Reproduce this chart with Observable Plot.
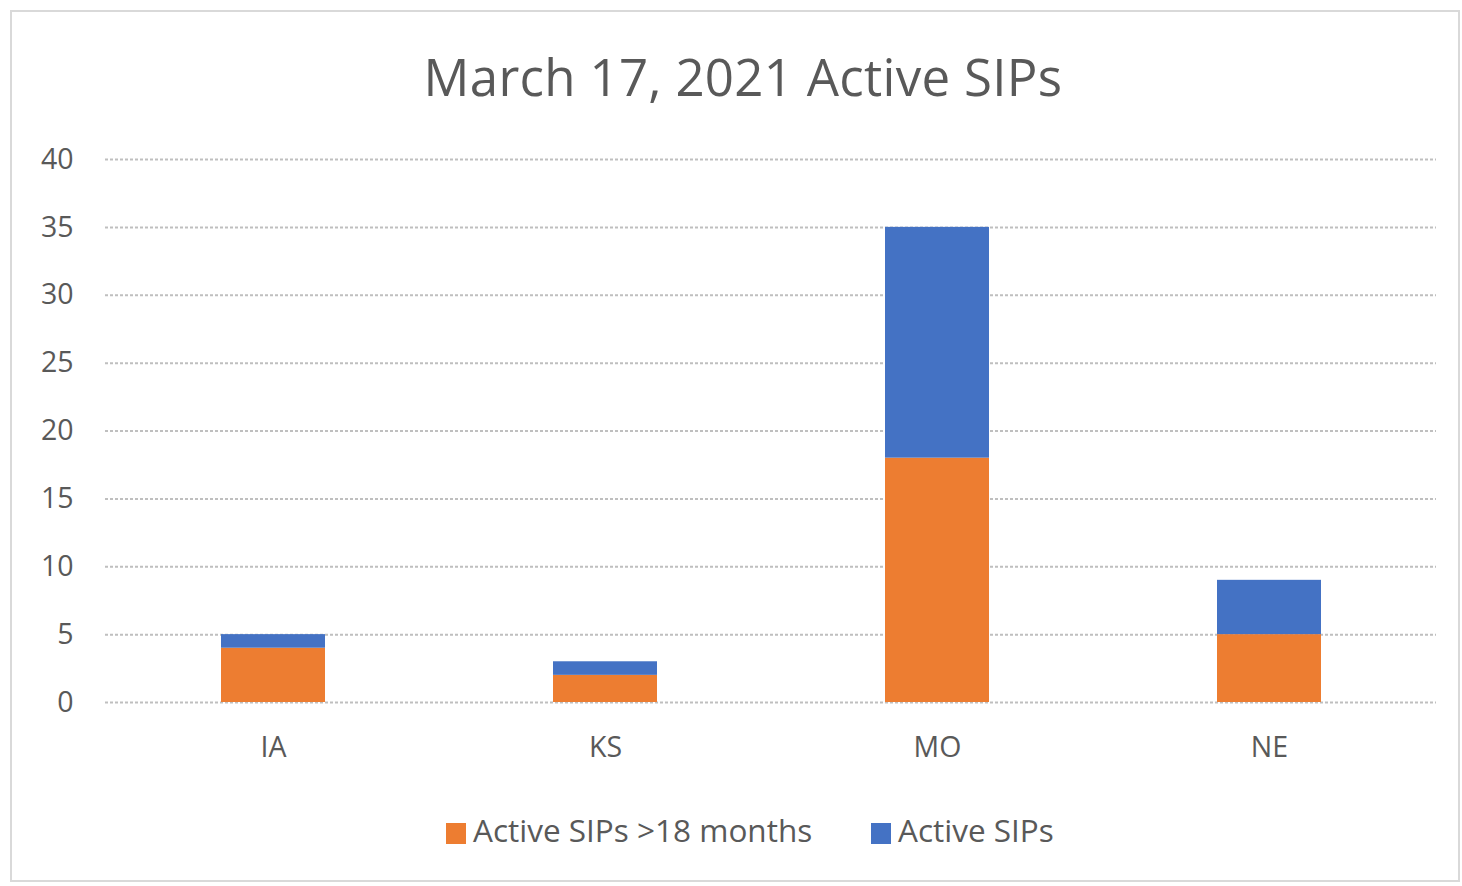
<!DOCTYPE html>
<html><head><meta charset="utf-8">
<script src="https://cdn.jsdelivr.net/npm/d3@7"></script>
<script src="https://cdn.jsdelivr.net/npm/@observablehq/plot@0.6"></script>
<style>
html,body{margin:0;padding:0;background:#fff;}
body{width:1462px;height:886px;position:relative;overflow:hidden;font-family:"Open Sans",sans-serif;}
#frame{position:absolute;left:10px;top:10px;width:1450px;height:872px;border:2px solid #d9d9d9;box-sizing:border-box;}
#title{position:absolute;left:0;width:1486px;top:45px;text-align:center;font-size:51px;color:#595959;line-height:62px;letter-spacing:0.3px;}
#chart{position:absolute;left:0;top:130px;}
#legend{position:absolute;top:812px;left:0;width:1462px;font-size:31.5px;color:#595959;line-height:36px;}
.li{position:absolute;top:0;white-space:nowrap;}
.sw{display:inline-block;width:20px;height:21px;vertical-align:-2px;margin-right:7px;}
</style></head>
<body>
<div id="frame"></div>
<div id="title">March 17, 2021 Active SIPs</div>
<div id="chart"></div>
<div id="legend"></div>
<script>
const states = ["IA", "KS", "MO", "NE"];
const over18 = [4, 2, 18, 5];
const activeSIPs = [1, 1, 17, 4];
const seriesNames = ["Active SIPs >18 months", "Active SIPs"];
const seriesColors = ["#ED7D31", "#4472C4"];
const yTicks = [0, 5, 10, 15, 20, 25, 30, 35, 40];

const data = [];
states.forEach((s, i) => {
  data.push({state: s, series: seriesNames[0], value: over18[i]});
  data.push({state: s, series: seriesNames[1], value: activeSIPs[i]});
});

const plot = Plot.plot({
  width: 1462,
  height: 650,
  marginLeft: 105,
  marginRight: 26,
  marginTop: 29,
  marginBottom: 78,
  style: {fontFamily: '"Open Sans",sans-serif', fontSize: "28.5px", color: "#595959", background: "transparent"},
  x: {domain: states, paddingInner: 0.687, paddingOuter: 0.3435, label: null, tickSize: 0, tickPadding: 34},
  y: {domain: [0, 40], ticks: yTicks, label: null, tickSize: 0, tickPadding: 32},
  color: {domain: seriesNames, range: seriesColors},
  marks: [
    Plot.ruleY(yTicks, {stroke: "#bfbfbf", strokeWidth: 2, strokeDasharray: "3,2"}),
    Plot.barY(data, {x: "state", y: "value", fill: "series", inset: 0})
  ]
});
plot.querySelectorAll('[aria-label="x-axis tick label"] text, [aria-label="y-axis tick label"] text').forEach(t => t.setAttribute("fill", "#595959"));
document.getElementById("chart").appendChild(plot);

const legend = document.getElementById("legend");
const lx = [446, 871];
seriesNames.forEach((n, i) => {
  const d = document.createElement("div");
  d.className = "li";
  d.style.left = lx[i] + "px";
  d.innerHTML = `<span class="sw" style="background:${seriesColors[i]}"></span>${n}`;
  legend.appendChild(d);
});
</script>
</body></html>
